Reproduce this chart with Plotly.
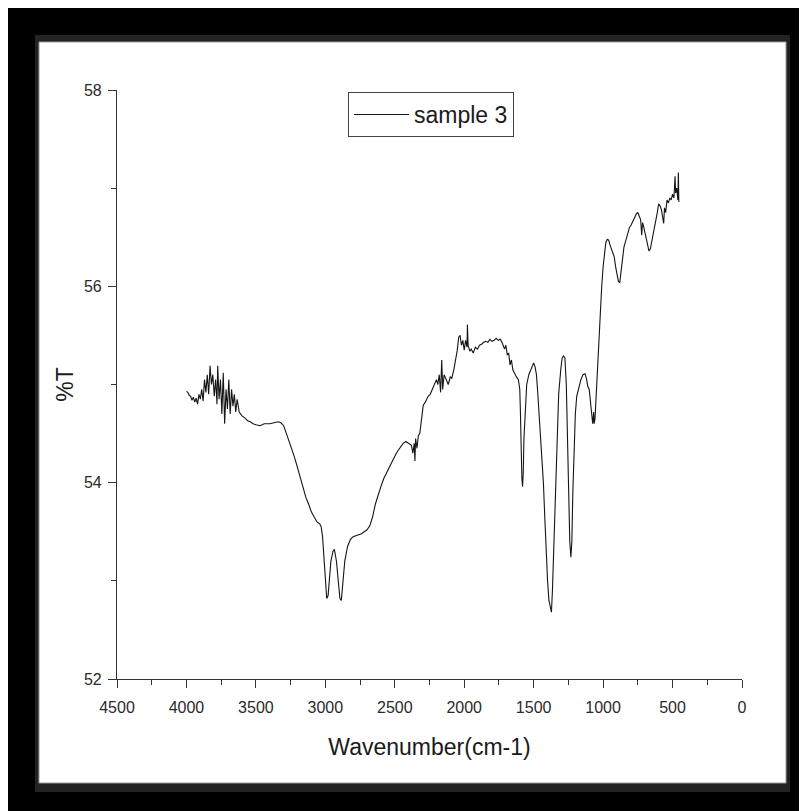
import plotly.graph_objects as go

# ---- data ----
wavenumber = [4000, 3990, 3980, 3970, 3960, 3950, 3940, 3930, 3920, 3910, 3900, 3890, 3880, 3870, 3860,
              3850, 3840, 3830, 3820, 3810, 3800, 3790, 3780, 3775, 3765, 3755, 3745, 3735, 3725, 3715,
              3705, 3695, 3685, 3675, 3665, 3655, 3645, 3635, 3620, 3600, 3580, 3560, 3540, 3520, 3500,
              3470, 3440, 3400, 3370, 3340, 3320, 3300, 3280, 3260, 3240, 3220, 3200, 3180, 3160, 3140,
              3120, 3100, 3080, 3060, 3040, 3030, 3020, 3010, 3000, 2990, 2980, 2970, 2960, 2945, 2935,
              2920, 2905, 2895, 2885, 2875, 2860, 2840, 2820, 2800, 2780, 2760, 2740, 2720, 2700, 2680,
              2660, 2640, 2620, 2600, 2580, 2560, 2540, 2520, 2500, 2480, 2460, 2440, 2420, 2400, 2380,
              2370, 2360, 2355, 2350, 2340, 2330, 2320, 2305, 2295, 2280, 2260, 2245, 2230, 2215, 2200,
              2190, 2180, 2170, 2162, 2155, 2145, 2130, 2115, 2100, 2090, 2075, 2060, 2050, 2040, 2030,
              2020, 2010, 2000, 1990, 1980, 1977, 1972, 1960, 1950, 1935, 1920, 1905, 1890, 1875, 1860,
              1845, 1830, 1815, 1800, 1785, 1770, 1755, 1740, 1725, 1710, 1700, 1690, 1680, 1670, 1660,
              1650, 1640, 1625, 1610, 1600, 1595, 1590, 1585, 1580, 1575, 1570, 1560, 1550, 1535, 1520,
              1510, 1500, 1490, 1480, 1470, 1460, 1450, 1440, 1430, 1420, 1410, 1400, 1390, 1380, 1372,
              1365, 1355, 1345, 1335, 1320, 1305, 1295, 1285, 1275, 1265, 1255, 1248, 1240, 1232, 1225,
              1218, 1210, 1200, 1190, 1175, 1160, 1145, 1130, 1120, 1110, 1100, 1090, 1080, 1075, 1068,
              1064, 1058, 1050, 1040, 1030, 1020, 1010, 1000, 990, 980, 970, 960, 950, 940, 930,
              920, 910, 900, 890, 880, 870, 860, 850, 840, 830, 820, 810, 800, 790, 780,
              770, 760, 750, 740, 730, 722, 716, 710, 700, 690, 680, 670, 660, 650, 640,
              630, 620, 610, 600, 590, 580, 570, 564, 558, 550, 540, 530, 520, 510, 500,
              490, 482, 478, 470, 462, 458, 455]
transmittance = [54.93, 54.92, 54.89, 54.88, 54.84, 54.87, 54.82, 54.86, 54.80, 54.90, 54.85, 54.95, 54.83, 55.05, 54.92,
                 55.10, 54.90, 55.19, 55.00, 55.10, 54.88, 55.05, 54.80, 55.19, 54.85, 55.05, 54.70, 55.12, 54.60, 54.95,
                 54.75, 55.05, 54.70, 54.95, 54.78, 54.90, 54.72, 54.85, 54.72, 54.68, 54.66, 54.63, 54.62, 54.60, 54.59,
                 54.58, 54.60, 54.60, 54.61, 54.62, 54.61, 54.58, 54.50, 54.42, 54.35, 54.25, 54.15, 54.05, 53.95, 53.85,
                 53.78, 53.70, 53.65, 53.60, 53.58, 53.55, 53.45, 53.25, 53.00, 52.82, 52.85, 53.05, 53.20, 53.30, 53.32,
                 53.20, 52.95, 52.82, 52.80, 52.95, 53.20, 53.35, 53.42, 53.45, 53.46, 53.47, 53.48, 53.50, 53.52, 53.56,
                 53.65, 53.78, 53.88, 53.96, 54.04, 54.10, 54.16, 54.22, 54.27, 54.32, 54.36, 54.40, 54.42, 54.40, 54.38,
                 54.30, 54.40, 54.22, 54.45, 54.35, 54.48, 54.50, 54.70, 54.79, 54.82, 54.88, 54.90, 54.95, 55.00, 55.05,
                 55.00, 55.10, 54.92, 55.25, 54.95, 55.10, 55.05, 55.00, 55.08, 55.06, 55.15, 55.25, 55.35, 55.48, 55.50,
                 55.40, 55.45, 55.35, 55.45, 55.38, 55.61, 55.40, 55.34, 55.36, 55.32, 55.38, 55.36, 55.40, 55.41, 55.43,
                 55.44, 55.43, 55.46, 55.44, 55.45, 55.47, 55.45, 55.46, 55.42, 55.36, 55.40, 55.30, 55.32, 55.20, 55.25,
                 55.15, 55.12, 55.08, 55.05, 54.95, 54.70, 54.30, 54.05, 53.96, 54.10, 54.45, 54.80, 55.00, 55.10, 55.15,
                 55.20, 55.22, 55.18, 55.10, 54.90, 54.70, 54.45, 54.28, 54.00, 53.65, 53.30, 53.00, 52.80, 52.72, 52.68,
                 52.90, 53.40, 53.90, 54.40, 54.90, 55.15, 55.27, 55.29, 55.27, 55.00, 54.40, 53.80, 53.40, 53.24, 53.40,
                 53.90, 54.40, 54.70, 54.88, 54.98, 55.05, 55.10, 55.11, 55.06, 54.98, 54.95, 54.80, 54.65, 54.60, 54.72,
                 54.60, 54.66, 54.90, 55.20, 55.50, 55.75, 56.00, 56.20, 56.35, 56.45, 56.48, 56.47, 56.42, 56.38, 56.35,
                 56.30, 56.20, 56.10, 56.05, 56.04, 56.15, 56.30, 56.40, 56.45, 56.50, 56.55, 56.60, 56.62, 56.65, 56.68,
                 56.70, 56.74, 56.75, 56.72, 56.68, 56.52, 56.65, 56.62, 56.55, 56.48, 56.40, 56.36, 56.38, 56.45, 56.52,
                 56.58, 56.65, 56.75, 56.84, 56.82, 56.78, 56.70, 56.64, 56.80, 56.75, 56.88, 56.85, 56.90, 56.88, 56.94,
                 56.90, 57.12, 56.95, 57.00, 56.88, 57.16, 56.86]

series_name = "sample 3"
x_title = "Wavenumber(cm-1)"
y_title = "%T"
x_ticks = [4500, 4000, 3500, 3000, 2500, 2000, 1500, 1000, 500, 0]
y_ticks = [52, 54, 56, 58]

# ---- layout geometry (pixels, relative to the figure; page adds an 8px body margin) ----
OFF = 8
W, H = 807 - OFF, 811 - OFF
L, T = 117 - OFF, 90 - OFF
PW, PH = 625, 589
R = W - L - PW
B = H - T - PH


def px(x):
    return (x - OFF - L) / PW


def py(y):
    return (T + PH - (y - OFF)) / PH


def rect(x0, y0, x1, y1, fill, line_color=None, line_width=0):
    return dict(type="rect", xref="paper", yref="paper", layer="below",
                x0=px(x0), x1=px(x1), y0=py(y1), y1=py(y0),
                fillcolor=fill,
                line=dict(color=line_color or fill, width=line_width))


shapes = [
    rect(35, 35, 790, 792, "#232323"),
    rect(39, 42, 786, 783, "white", "#9a9a9a", 1),
]

fig = go.Figure()
fig.add_trace(go.Scatter(x=wavenumber, y=transmittance, mode="lines", name=series_name,
                         line=dict(color="#151515", width=1.1)))

axis_font = dict(family="Liberation Sans, Arial, sans-serif", size=16, color="#2a2a2a")
title_font = dict(family="Liberation Sans, Arial, sans-serif", size=23, color="#1a1a1a")
fig.update_layout(
    width=W, height=H,
    margin=dict(l=L, r=R, t=T, b=B, pad=0),
    paper_bgcolor="black",
    plot_bgcolor="rgba(0,0,0,0)",
    shapes=shapes,
    showlegend=True,
    legend=dict(x=px(348), y=py(92), xanchor="left", yanchor="top",
                bgcolor="white", bordercolor="#444444", borderwidth=1,
                font=dict(family="Liberation Sans, Arial, sans-serif", size=23, color="#1a1a1a"),
                itemwidth=55, tracegroupgap=0),
    xaxis=dict(range=[4500, 0], tickvals=x_ticks, ticktext=[str(v) for v in x_ticks],
               showgrid=False, zeroline=False, showline=True, linecolor="#333333", linewidth=1.2,
               ticks="outside", ticklen=8, tickwidth=1.2, tickcolor="#333333",
               minor=dict(ticks="outside", dtick=250, ticklen=5, tickwidth=1.2, tickcolor="#333333"),
               tickfont=axis_font, ticklabelstandoff=6,
               title=dict(text=x_title, standoff=23, font=title_font)),
    yaxis=dict(range=[52, 58], tickvals=y_ticks, ticktext=[str(v) for v in y_ticks],
               showgrid=False, zeroline=False, showline=True, linecolor="#333333", linewidth=1.2,
               ticks="outside", ticklen=8, tickwidth=1.2, tickcolor="#333333",
               minor=dict(ticks="outside", dtick=1, ticklen=5, tickwidth=1.2, tickcolor="#333333"),
               tickfont=axis_font, ticklabelstandoff=3,
               title=dict(text=y_title, standoff=3, font=title_font)),
)

fig.write_html("out.html")
